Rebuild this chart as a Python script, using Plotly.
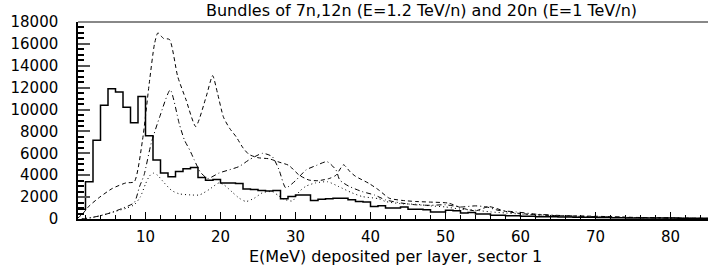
import plotly.graph_objects as go

# ---- data ----
# solid histogram: bin left edges 1..85 (width 1), values
hist_edges = list(range(1, 86))
hist_vals = [900, 3400, 7200, 10400, 11900, 11600, 10200, 8800, 11200, 7600,
             5400, 4200, 3850, 4350, 4600, 4700, 3800, 3550, 3600, 3300,
             3300, 3250, 2750, 2700, 2600, 2550, 2600, 1850, 2050, 2200,
             2200, 1700, 1800, 1850, 1900, 1900, 1750, 1600, 1550, 1150,
             1200, 1000, 1000, 1100, 900, 900, 850, 650, 650, 800,
             750, 550, 600, 450, 450, 350, 350, 300, 300, 250,
             250, 200, 200, 200, 180, 180, 150, 150, 150, 130,
             130, 120, 120, 100, 100, 100, 90, 90, 80, 80,
             70, 70, 60, 60]

# dashed curve
a_x = [1.0, 1.65, 2.5, 3.9, 5.6, 7.4, 8.5, 9.6, 10.5, 11.2, 11.65, 12.4, 13.2,
       14.3, 15.4, 16.7, 18.1, 18.95, 19.6, 20.4, 21.2, 22.1, 23.0, 23.8, 25.0,
       26.5, 27.8, 29.1, 30.5, 31.8, 33.0, 34.5, 35.4, 36.4, 37.3, 38.0, 39.8,
       41.1, 42.5, 44.2, 46.0, 47.8, 50.4, 52.2, 54.0, 55.8, 58.0, 60.0, 62.0,
       65.0, 70.0, 75.0, 80.0, 85.0]
a_y = [100, 500, 1200, 2000, 2800, 3300, 3400, 7200, 12400, 16000, 17000, 16500, 16400,
       13000, 10900, 8450, 11200, 13100, 11500, 9300, 8300, 7500, 6500, 5900, 5600,
       5500, 5200, 4900, 4000, 3560, 3500, 3700, 4000, 4950, 4300, 3900, 3250,
       2650, 1900, 1700, 1600, 1550, 1450, 1000, 750, 1130, 700, 500, 400,
       300, 250, 150, 100, 50]

# dash-dot curve
b_x = [1.5, 2.5, 4.0, 5.5, 7.0, 8.5, 9.2, 9.8, 10.75, 11.9, 13.3, 14.5, 15.2,
       15.9, 16.5, 17.3, 18.3, 19.8, 21.2, 22.5, 23.8, 25.6, 26.9, 27.8, 28.7,
       30.0, 31.4, 32.8, 34.2, 35.4, 35.9, 37.1, 38.9, 40.5, 42.0, 44.2, 46.0,
       48.0, 50.0, 52.0, 54.0, 55.5, 57.0, 59.4, 62.0, 65.0, 68.0, 72.0, 76.0,
       80.0, 85.0]
b_y = [0, 100, 300, 600, 1000, 1500, 2950, 4000, 6900, 9350, 11800, 8700, 7200,
       6300, 5400, 4300, 3700, 4200, 4500, 4800, 5400, 6000, 5700, 4500, 2850,
       3500, 4480, 4900, 5240, 4480, 3560, 3000, 2500, 2200, 1750, 1450, 1300,
       1250, 1300, 1100, 1200, 1100, 800, 650, 450, 330, 250, 180, 120,
       80, 40]

# dotted curve
c_x = [1.5, 3.0, 4.5, 6.0, 7.5, 8.5, 9.3, 10.0, 10.5, 11.0, 11.6, 12.5, 13.5,
       14.5, 16.0, 17.2, 18.5, 19.8, 20.5, 21.5, 22.5, 23.4, 24.5, 25.6, 26.9,
       27.8, 28.7, 29.6, 30.5, 31.4, 32.7, 34.3, 35.8, 37.5, 38.9, 41.1, 42.0,
       44.0, 46.0, 48.0, 50.0, 52.0, 54.0, 56.0, 58.0, 60.0, 63.0, 66.0, 70.0,
       75.0, 80.0, 85.0]
c_y = [0, 150, 400, 700, 1000, 1300, 2000, 3200, 3900, 4200, 4000, 3300, 2600,
       2300, 2200, 2200, 2700, 3300, 3100, 2500, 1900, 1600, 1900, 2400, 2500,
       2100, 1750, 1650, 2500, 3000, 3300, 3400, 2950, 2400, 2050, 1850, 1600,
       1400, 1350, 1200, 1100, 900, 800, 650, 550, 450, 350, 280, 200,
       130, 80, 40]

x_ticks = [10, 20, 30, 40, 50, 60, 70, 80]
y_ticks = [0, 2000, 4000, 6000, 8000, 10000, 12000, 14000, 16000, 18000]

title_text = "Bundles of 7n,12n (E=1.2 TeV/n) and 20n (E=1 TeV/n)"
xlabel_text = "E(MeV) deposited per layer, sector 1"

FONT = "DejaVu Sans"
FS = 15

fig = go.Figure()
fig.add_trace(go.Scatter(x=hist_edges, y=hist_vals + [hist_vals[-1]], mode="lines",
                         line=dict(shape="hv", color="black", width=1.5),
                         hoverinfo="skip"))
fig.add_trace(go.Scatter(x=a_x, y=a_y, mode="lines",
                         line=dict(shape="spline", smoothing=0.6, color="black", width=1,
                                   dash="4px,3px")))
fig.add_trace(go.Scatter(x=b_x, y=b_y, mode="lines",
                         line=dict(shape="spline", smoothing=0.6, color="black", width=1,
                                   dash="5px,3px,1px,3px")))
fig.add_trace(go.Scatter(x=c_x, y=c_y, mode="lines",
                         line=dict(shape="spline", smoothing=0.6, color="black", width=1,
                                   dash="1px,3px")))

fig.update_layout(
    width=709, height=269,
    margin=dict(l=78, r=1, t=22, b=50, autoexpand=False),
    paper_bgcolor="white", plot_bgcolor="white",
    showlegend=False,
    font=dict(family=FONT, size=FS, color="black"),
)
fig.update_xaxes(
    range=[1, 85], showline=True, linecolor="black", linewidth=1.5,
    showgrid=False, zeroline=False,
    tickmode="array", tickvals=x_ticks, ticktext=[str(v) for v in x_ticks],
    ticks="inside", ticklen=7, tickwidth=1, tickcolor="black",
    minor=dict(dtick=2, tick0=0, ticks="inside", ticklen=4, tickcolor="black", showgrid=False),
    ticklabelstandoff=3,
    tickfont=dict(family=FONT, size=FS),
)
fig.update_yaxes(
    range=[0, 18000], showline=True, linecolor="black", linewidth=1.5,
    showgrid=False, zeroline=False,
    tickmode="array", tickvals=y_ticks, ticktext=[str(v) for v in y_ticks],
    ticks="inside", ticklen=12, tickwidth=1.5, tickcolor="#555",
    minor=dict(dtick=500, tick0=0, ticks="inside", ticklen=6, tickcolor="black", showgrid=False),
    ticklabelstandoff=15,
    tickfont=dict(family=FONT, size=FS),
)
fig.add_shape(type="line", xref="paper", yref="paper", x0=0, x1=1, y0=1, y1=1,
              line=dict(color="#888", width=2))
fig.add_annotation(text=title_text, xref="paper", yref="paper",
                   x=(422 - 78) / 630, y=1, yshift=12, xanchor="center", yanchor="middle",
                   showarrow=False, font=dict(family=FONT, size=16))
fig.add_annotation(text=xlabel_text, xref="paper", yref="paper",
                   x=(395 - 78) / 630, y=0, yshift=-37, xanchor="center", yanchor="middle",
                   showarrow=False, font=dict(family=FONT, size=16))

fig.write_html("out.html", post_script="document.body.style.margin='0';",
               config={"displayModeBar": False})
